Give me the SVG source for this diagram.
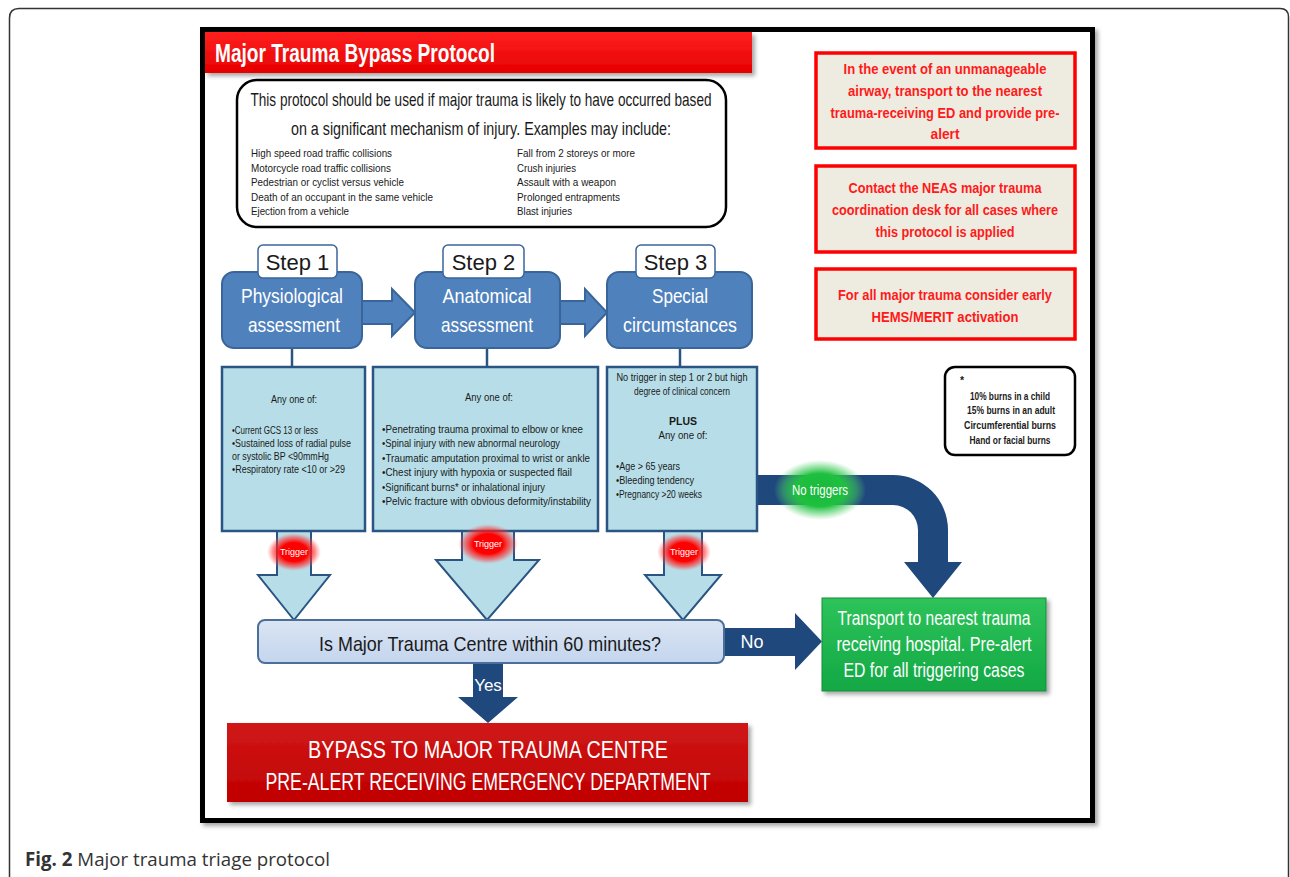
<svg xmlns="http://www.w3.org/2000/svg" width="1290" height="877" viewBox="0 0 1290 877">
<defs>
<style>
.n{font-family:"Liberation Sans Narrow","Liberation Sans",Arial,sans-serif}
.a{font-family:"Liberation Sans",Arial,sans-serif}
.w{fill:#fff}
.k{fill:#1a1a1a}
.rd{fill:#ff1a1a;font-weight:bold;font-size:15.5px;text-anchor:middle}
.sm{font-size:10.5px;fill:#1a1a1a}
.ex{font-size:11px;fill:#1a1a1a}
.stepbox{fill:#4f81bd;stroke:#3a659a;stroke-width:2}
.lbl{fill:#fff;stroke:#3a659a;stroke-width:1.5}
.cbox{fill:#b7dee8;stroke:#2a5583;stroke-width:2.5}
.tarr{fill:#b7dee8;stroke:#2a5583;stroke-width:2}
.darr{fill:#1f497d}
.rbox{fill:#eeece1;stroke:#ff0000;stroke-width:3.5}
.conn{stroke:#2a5583;stroke-width:2.5}
</style>
<linearGradient id="gRed" x1="0" y1="0" x2="0" y2="1"><stop offset="0" stop-color="#ff2020"/><stop offset="1" stop-color="#e60000"/></linearGradient>
<linearGradient id="gDark" x1="0" y1="0" x2="0" y2="1"><stop offset="0" stop-color="#d01818"/><stop offset="1" stop-color="#c00000"/></linearGradient>
<linearGradient id="gGreen" x1="0" y1="0" x2="0" y2="1"><stop offset="0" stop-color="#2ec35a"/><stop offset="1" stop-color="#12a845"/></linearGradient>
<linearGradient id="gDec" x1="0" y1="0" x2="0" y2="1"><stop offset="0" stop-color="#dbe5f3"/><stop offset="1" stop-color="#c3d5ee"/></linearGradient>
<radialGradient id="glowR"><stop offset="0" stop-color="#ff0000"/><stop offset="0.5" stop-color="#ff0000"/><stop offset="0.8" stop-color="#ff3030" stop-opacity="0.5"/><stop offset="1" stop-color="#ff6060" stop-opacity="0"/></radialGradient>
<radialGradient id="glowG"><stop offset="0" stop-color="#18b83a"/><stop offset="0.55" stop-color="#1fbf40"/><stop offset="0.8" stop-color="#40cc5a" stop-opacity="0.5"/><stop offset="1" stop-color="#60d070" stop-opacity="0"/></radialGradient>
<filter id="sh" x="-5%" y="-5%" width="112%" height="120%"><feDropShadow dx="3" dy="3" stdDeviation="2" flood-color="#000" flood-opacity="0.35"/></filter>
</defs>

<g id="card">
<path d="M9.5,877 V18 Q9.5,8.5 19,8.5 H1280 Q1288.5,8.5 1288.5,17 V877" fill="#fff" stroke="#333" stroke-width="1.5"/>
</g>

<g id="frame">
<rect x="202.5" y="29.5" width="890" height="791" fill="#fff" stroke="#000" stroke-width="5" filter="url(#sh)"/>
</g>

<g id="title">
<rect x="205" y="32" width="547" height="41" fill="url(#gRed)" filter="url(#sh)"/>
<text x="215" y="62" class="n w" font-size="25" font-weight="bold" textLength="280" lengthAdjust="spacingAndGlyphs">Major Trauma Bypass Protocol</text>
</g>

<g id="intro">
<rect x="237" y="80" width="489" height="147" rx="20" fill="#fff" stroke="#000" stroke-width="2.5"/>
<text x="481" y="106" class="n k" font-size="18.5" text-anchor="middle" textLength="461" lengthAdjust="spacingAndGlyphs">This protocol should be used if major trauma is likely to have occurred based</text>
<text x="481" y="135" class="n k" font-size="18.5" text-anchor="middle" textLength="380" lengthAdjust="spacingAndGlyphs">on a significant mechanism of injury. Examples may include:</text>
<g class="a ex">
<text x="251" y="157" textLength="141" lengthAdjust="spacingAndGlyphs">High speed road traffic collisions</text>
<text x="251" y="172" textLength="140" lengthAdjust="spacingAndGlyphs">Motorcycle road traffic collisions</text>
<text x="251" y="186" textLength="153" lengthAdjust="spacingAndGlyphs">Pedestrian or cyclist versus vehicle</text>
<text x="251" y="201" textLength="182" lengthAdjust="spacingAndGlyphs">Death of an occupant in the same vehicle</text>
<text x="251" y="215" textLength="98" lengthAdjust="spacingAndGlyphs">Ejection from a vehicle</text>
<text x="517" y="157" textLength="118" lengthAdjust="spacingAndGlyphs">Fall from 2 storeys or more</text>
<text x="517" y="172" textLength="59" lengthAdjust="spacingAndGlyphs">Crush injuries</text>
<text x="517" y="186" textLength="99" lengthAdjust="spacingAndGlyphs">Assault with a weapon</text>
<text x="517" y="201" textLength="103" lengthAdjust="spacingAndGlyphs">Prolonged entrapments</text>
<text x="517" y="215" textLength="55" lengthAdjust="spacingAndGlyphs">Blast injuries</text>
</g>
</g>

<g id="note-airway">
<rect x="816" y="53" width="259" height="95" class="rbox"/>
<text x="945" y="74" class="n rd" textLength="203" lengthAdjust="spacingAndGlyphs">In the event of an unmanageable</text>
<text x="945" y="96" class="n rd" textLength="194" lengthAdjust="spacingAndGlyphs">airway, transport to the nearest</text>
<text x="945" y="118" class="n rd" textLength="229" lengthAdjust="spacingAndGlyphs">trauma-receiving ED and provide pre-</text>
<text x="945" y="139" class="n rd" textLength="29" lengthAdjust="spacingAndGlyphs">alert</text>
</g>
<g id="note-neas">
<rect x="816" y="166" width="259" height="86" class="rbox"/>
<text x="945" y="193" class="n rd" textLength="193" lengthAdjust="spacingAndGlyphs">Contact the NEAS major trauma</text>
<text x="945" y="215" class="n rd" textLength="226" lengthAdjust="spacingAndGlyphs">coordination desk for all cases where</text>
<text x="945" y="237" class="n rd" textLength="139" lengthAdjust="spacingAndGlyphs">this protocol is applied</text>
</g>
<g id="note-hems">
<rect x="816" y="269" width="259" height="70" class="rbox"/>
<text x="945" y="300" class="n rd" textLength="214" lengthAdjust="spacingAndGlyphs">For all major trauma consider early</text>
<text x="945" y="322" class="n rd" textLength="147" lengthAdjust="spacingAndGlyphs">HEMS/MERIT activation</text>
</g>

<g id="connectors">
<path class="stepbox" d="M362,301 H392 V289 L415,312.5 L392,336 V324 H362 Z"/>
<path class="stepbox" d="M560,301 H585 V289 L607,312.5 L585,336 V324 H560 Z"/>
<line class="conn" x1="292" y1="348" x2="292" y2="367"/>
<line class="conn" x1="487" y1="348" x2="487" y2="367"/>
<line class="conn" x1="680" y1="348" x2="680" y2="367"/>
<path class="tarr" d="M277,532 V575 H258 L294,620 L330,575 H311 V532"/>
<path class="tarr" d="M462,532 V560 H436 L487,620 L539,560 H514 V532"/>
<path class="tarr" d="M664,532 V575 H645 L683,620 L721,575 H702 V532"/>
<path class="darr" d="M757,475 H893 A55,55 0 0 1 948,530 V562 H962 L933,598 L904,562 H918 V530 A25,25 0 0 0 893,505 H757 Z"/>
<path class="darr" d="M724,628 H795 V613 L822,641.5 L795,670 V656 H724 Z"/>
<path class="darr" d="M473,663 V697 H458 L488,723 L518,697 H503 V663 Z"/>
</g>

<g id="step1">
<rect x="222" y="272" width="140" height="76" rx="12" class="stepbox"/>
<rect x="258" y="245" width="79" height="33" rx="5" class="lbl"/>
<text x="297.5" y="270" class="n k" font-size="22" text-anchor="middle">Step 1</text>
<text x="292" y="303" class="n w" font-size="21" text-anchor="middle" textLength="102" lengthAdjust="spacingAndGlyphs">Physiological</text>
<text x="294" y="332" class="n w" font-size="21" text-anchor="middle" textLength="92" lengthAdjust="spacingAndGlyphs">assessment</text>
</g>
<g id="step2">
<rect x="415" y="272" width="145" height="76" rx="12" class="stepbox"/>
<rect x="443" y="245" width="81" height="33" rx="5" class="lbl"/>
<text x="483.5" y="270" class="n k" font-size="22" text-anchor="middle">Step 2</text>
<text x="487" y="303" class="n w" font-size="21" text-anchor="middle" textLength="89" lengthAdjust="spacingAndGlyphs">Anatomical</text>
<text x="487" y="332" class="n w" font-size="21" text-anchor="middle" textLength="92" lengthAdjust="spacingAndGlyphs">assessment</text>
</g>
<g id="step3">
<rect x="607" y="272" width="145" height="76" rx="12" class="stepbox"/>
<rect x="636" y="245" width="79" height="33" rx="5" class="lbl"/>
<text x="675.5" y="270" class="n k" font-size="22" text-anchor="middle">Step 3</text>
<text x="680" y="303" class="n w" font-size="21" text-anchor="middle" textLength="56" lengthAdjust="spacingAndGlyphs">Special</text>
<text x="680" y="332" class="n w" font-size="21" text-anchor="middle" textLength="114" lengthAdjust="spacingAndGlyphs">circumstances</text>
</g>

<g id="criteria1">
<rect x="222" y="367" width="143" height="164" class="cbox"/>
<g class="n sm">
<text x="294" y="403" text-anchor="middle" textLength="46" lengthAdjust="spacingAndGlyphs">Any one of:</text>
<text x="232" y="434" textLength="86" lengthAdjust="spacingAndGlyphs">•Current GCS 13 or less</text>
<text x="232" y="447" textLength="119" lengthAdjust="spacingAndGlyphs">•Sustained loss of radial pulse</text>
<text x="232" y="460" textLength="97" lengthAdjust="spacingAndGlyphs">or systolic BP &lt;90mmHg</text>
<text x="232" y="473" textLength="113" lengthAdjust="spacingAndGlyphs">•Respiratory rate &lt;10 or &gt;29</text>
</g>
</g>
<g id="criteria2">
<rect x="373" y="367" width="225" height="164" class="cbox"/>
<g class="n sm">
<text x="489" y="401" text-anchor="middle" textLength="48" lengthAdjust="spacingAndGlyphs">Any one of:</text>
<text x="382" y="433" textLength="201" lengthAdjust="spacingAndGlyphs">•Penetrating trauma proximal to elbow or knee</text>
<text x="382" y="447" textLength="178" lengthAdjust="spacingAndGlyphs">•Spinal injury with new abnormal neurology</text>
<text x="382" y="462" textLength="208" lengthAdjust="spacingAndGlyphs">•Traumatic amputation proximal to wrist or ankle</text>
<text x="382" y="476" textLength="190" lengthAdjust="spacingAndGlyphs">•Chest injury with hypoxia or suspected flail</text>
<text x="382" y="491" textLength="163" lengthAdjust="spacingAndGlyphs">•Significant burns* or inhalational injury</text>
<text x="382" y="505" textLength="209" lengthAdjust="spacingAndGlyphs">•Pelvic fracture with obvious deformity/instability</text>
</g>
</g>
<g id="criteria3">
<rect x="607" y="367" width="150" height="164" class="cbox"/>
<g class="n sm">
<text x="682" y="381" text-anchor="middle" textLength="131" lengthAdjust="spacingAndGlyphs">No trigger in step 1 or 2 but high</text>
<text x="682" y="395" text-anchor="middle" textLength="96" lengthAdjust="spacingAndGlyphs">degree of clinical concern</text>
<text x="683" y="425" text-anchor="middle" font-weight="bold">PLUS</text>
<text x="683" y="439" text-anchor="middle" textLength="49" lengthAdjust="spacingAndGlyphs">Any one of:</text>
<text x="616" y="470" textLength="64" lengthAdjust="spacingAndGlyphs">•Age &gt; 65 years</text>
<text x="616" y="484" textLength="78" lengthAdjust="spacingAndGlyphs">•Bleeding tendency</text>
<text x="616" y="498" textLength="86" lengthAdjust="spacingAndGlyphs">•Pregnancy &gt;20 weeks</text>
</g>
</g>

<g id="burns-note">
<rect x="945" y="367" width="130" height="88" rx="10" fill="#fff" stroke="#000" stroke-width="2.5"/>
<g class="n sm" font-weight="bold" text-anchor="middle">
<text x="960" y="384" text-anchor="start">*</text>
<text x="1010" y="400" textLength="80" lengthAdjust="spacingAndGlyphs">10% burns in a child</text>
<text x="1011" y="414" textLength="88" lengthAdjust="spacingAndGlyphs">15% burns in an adult</text>
<text x="1010" y="429" textLength="92" lengthAdjust="spacingAndGlyphs">Circumferential burns</text>
<text x="1010" y="444" textLength="81" lengthAdjust="spacingAndGlyphs">Hand or facial burns</text>
</g>
</g>

<g id="trigger1">
<ellipse cx="294" cy="552" rx="27" ry="19" fill="url(#glowR)"/>
<text x="294" y="555" class="n w" font-size="9" text-anchor="middle">Trigger</text>
</g>
<g id="trigger2">
<ellipse cx="488" cy="544" rx="30" ry="20" fill="url(#glowR)"/>
<text x="488" y="547" class="n w" font-size="9" text-anchor="middle">Trigger</text>
</g>
<g id="trigger3">
<ellipse cx="684" cy="552" rx="27" ry="19" fill="url(#glowR)"/>
<text x="684" y="555" class="n w" font-size="9" text-anchor="middle">Trigger</text>
</g>

<g id="no-triggers">
<ellipse cx="820" cy="490" rx="46" ry="30" fill="url(#glowG)"/>
<text x="820" y="495" class="n w" font-size="14" text-anchor="middle" textLength="56" lengthAdjust="spacingAndGlyphs">No triggers</text>
</g>

<g id="decision">
<rect x="258" y="620" width="466" height="43" rx="7" fill="url(#gDec)" stroke="#4a6f9a" stroke-width="2"/>
<text x="490" y="651" class="n k" font-size="21" text-anchor="middle" textLength="342" lengthAdjust="spacingAndGlyphs">Is Major Trauma Centre within 60 minutes?</text>
<text x="752" y="648" class="n w" font-size="18" text-anchor="middle">No</text>
<text x="488" y="691" class="n w" font-size="17" text-anchor="middle">Yes</text>
</g>

<g id="transport">
<rect x="822" y="598" width="224" height="93" fill="url(#gGreen)" stroke="#1c8c3a" stroke-width="1" filter="url(#sh)"/>
<text x="934" y="625" class="n w" font-size="19.5" text-anchor="middle" textLength="193" lengthAdjust="spacingAndGlyphs">Transport to nearest trauma</text>
<text x="934" y="651" class="n w" font-size="19.5" text-anchor="middle" textLength="195" lengthAdjust="spacingAndGlyphs">receiving hospital. Pre-alert</text>
<text x="934" y="677" class="n w" font-size="19.5" text-anchor="middle" textLength="181" lengthAdjust="spacingAndGlyphs">ED for all triggering cases</text>
</g>

<g id="bypass">
<rect x="227" y="723" width="521" height="79" fill="url(#gDark)" filter="url(#sh)"/>
<text x="488" y="758" class="n w" font-size="23" text-anchor="middle" textLength="360" lengthAdjust="spacingAndGlyphs">BYPASS TO MAJOR TRAUMA CENTRE</text>
<text x="488" y="790" class="n w" font-size="23" text-anchor="middle" textLength="445" lengthAdjust="spacingAndGlyphs">PRE-ALERT RECEIVING EMERGENCY DEPARTMENT</text>
</g>

<g id="caption">
<text x="25" y="866" font-family="'Open Sans','Noto Sans',sans-serif" font-size="19" fill="#333" textLength="305" lengthAdjust="spacingAndGlyphs"><tspan font-weight="bold">Fig. 2</tspan> Major trauma triage protocol</text>
</g>
</svg>
